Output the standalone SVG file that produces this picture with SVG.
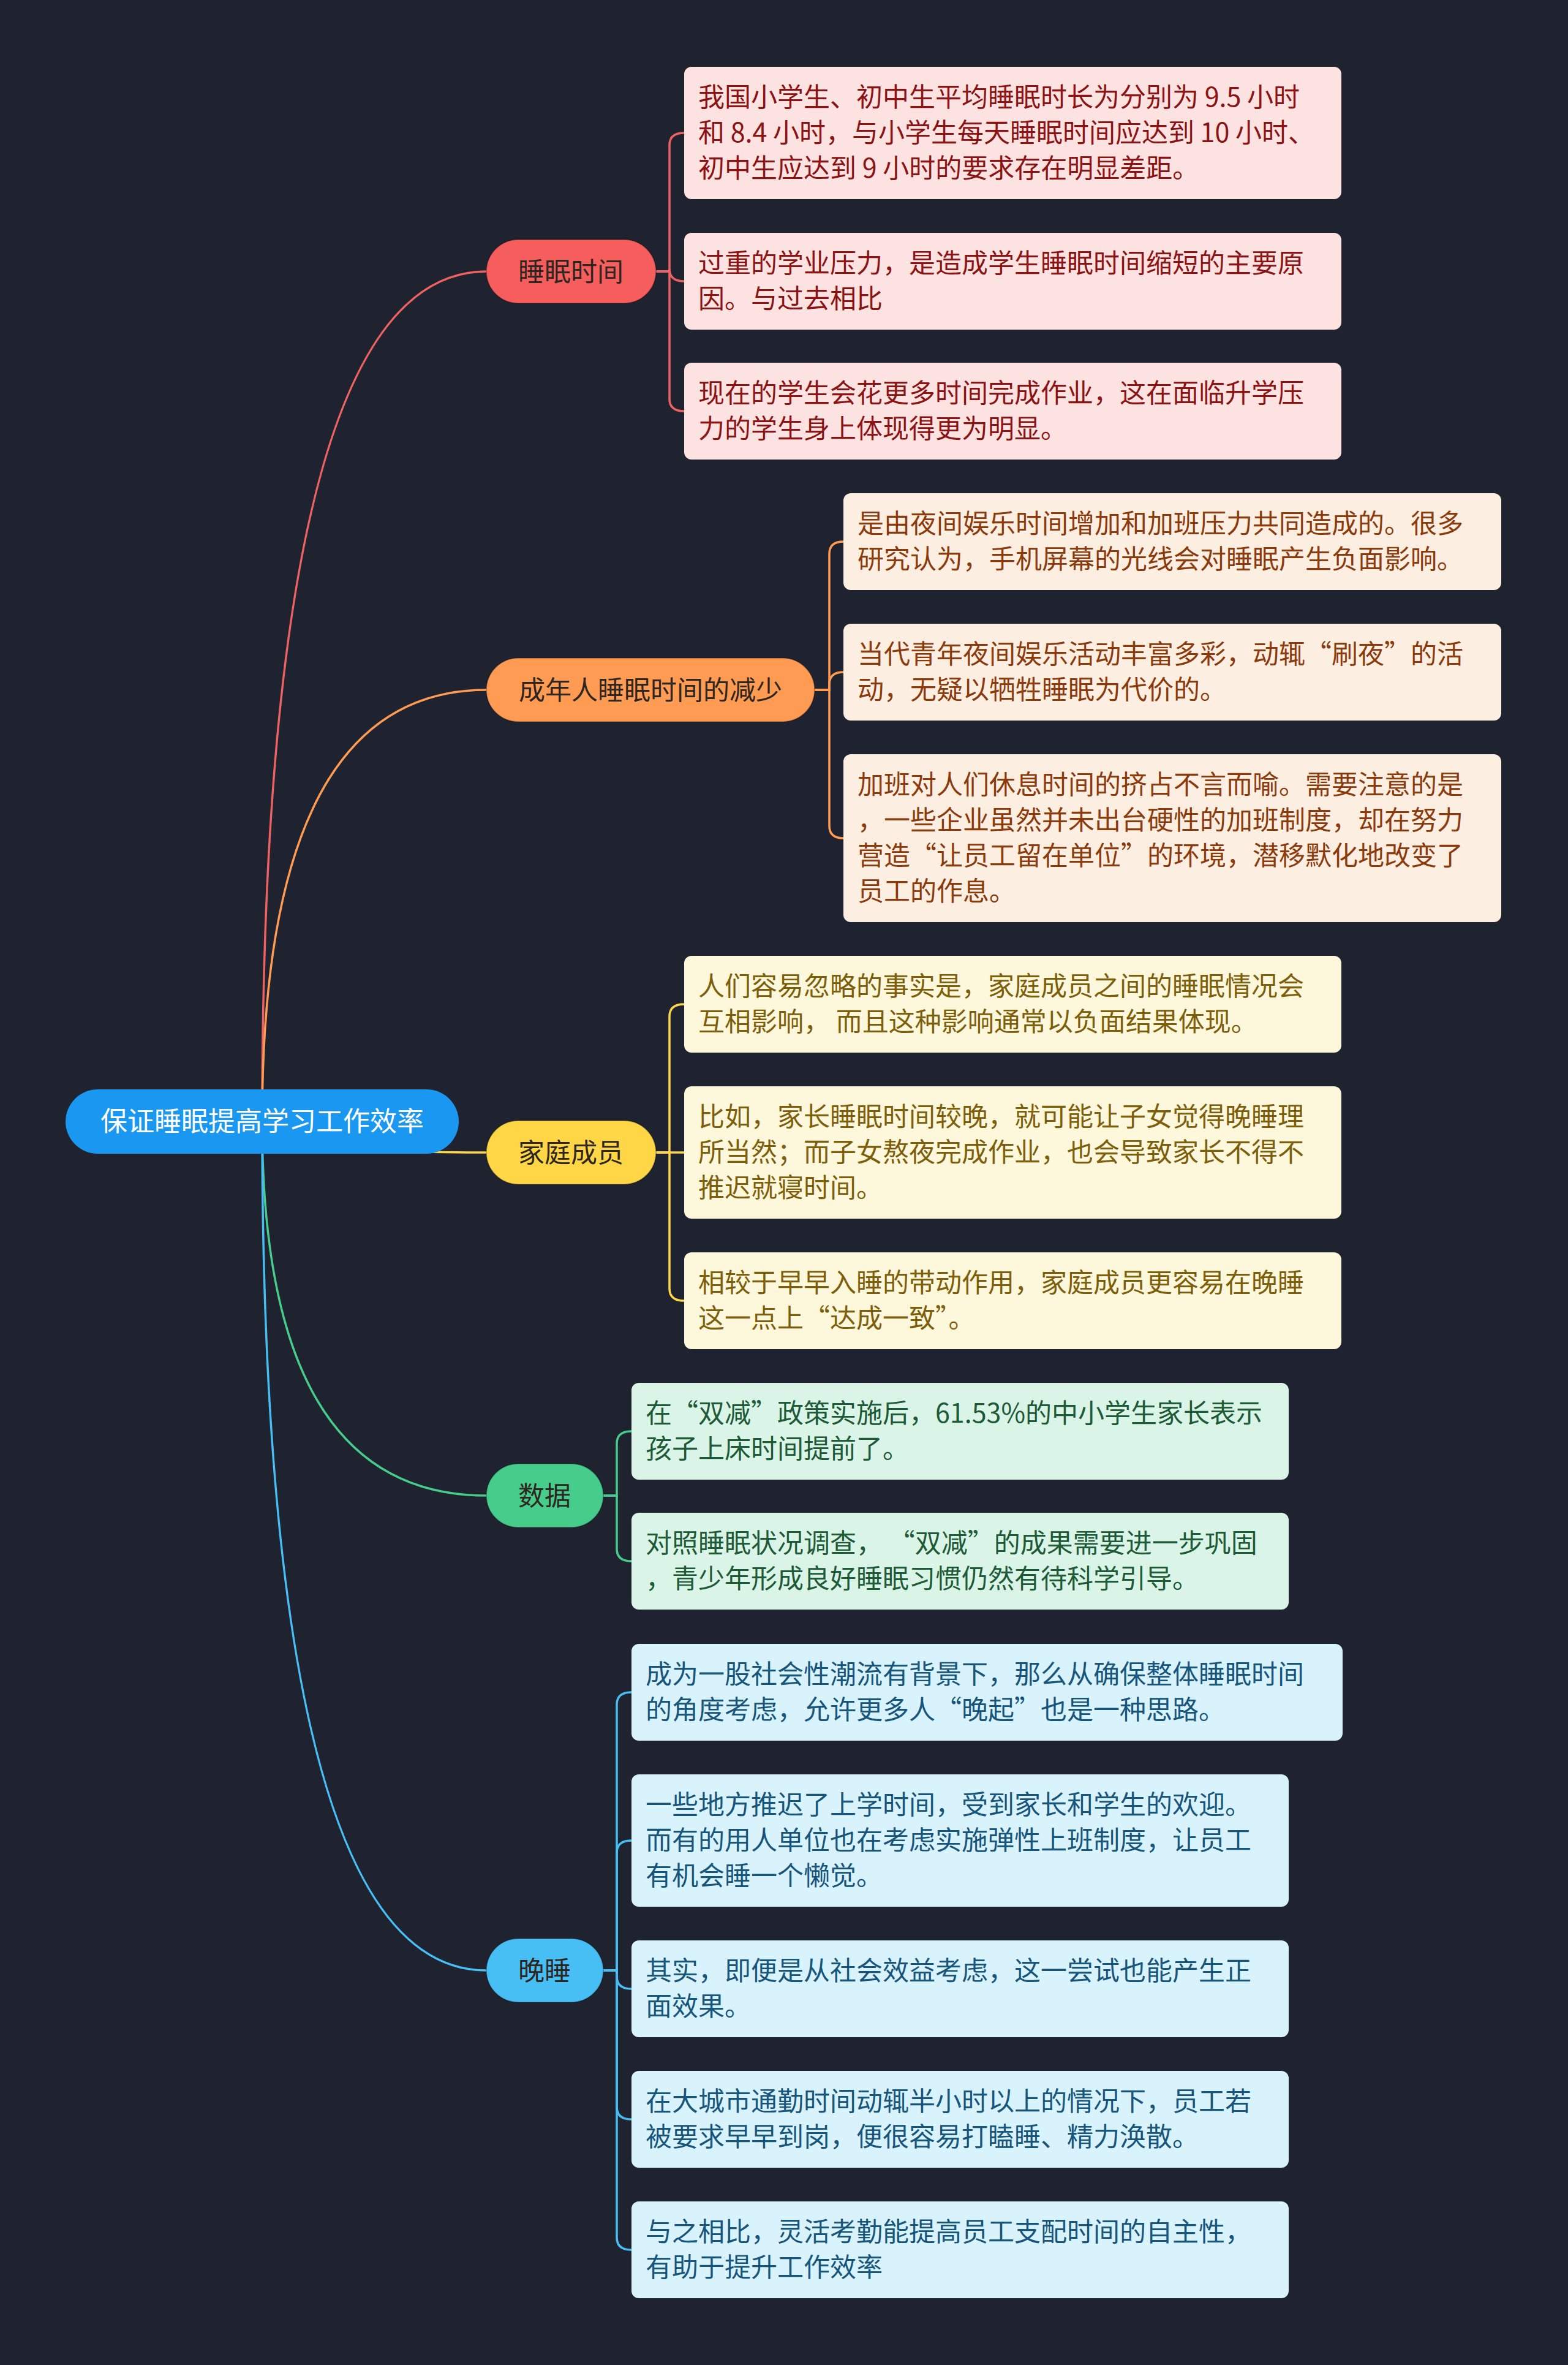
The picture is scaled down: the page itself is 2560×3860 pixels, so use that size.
<svg xmlns="http://www.w3.org/2000/svg" width="2560" height="3860" viewBox="0 0 2560 3860">
<style>
text{font-family:"Noto Sans CJK SC","Noto Sans",sans-serif;font-size:43px}
.c{fill:none;stroke-width:3.5;stroke-linecap:round}
.nt{text-anchor:middle}
.leaf{rx:12}
.r .c,.cr{stroke:#ef6262}
.o{stroke:#ff9b52}
.y{stroke:#ffd645}
.g{stroke:#46cc8b}
.b{stroke:#47bff5}
.bn{stroke:rgba(0,0,0,0.25);stroke-width:2}
.lr{fill:#fde2e2}.tr{fill:#8c1313}
.lo{fill:#fdeee2}.to{fill:#8b3a0c}
.ly{fill:#fdf7db}.ty{fill:#7d5e0a}
.lg{fill:#dbf4e8}.tg{fill:#1d5a36}
.lb{fill:#d9f3fd}.tb{fill:#17557a}
.bt{fill:#2e2620}
</style>
<rect width="2560" height="3860" fill="#1f2330"/>
<g id="connectors">
<path class="c cr" d="M428 1830 Q428 443 794 443"/>
<path class="c o" d="M428 1830 Q428 1126 794 1126"/>
<path class="c y" d="M428 1830 Q428 1881 794 1881"/>
<path class="c g" d="M428 1830 Q428 2441 794 2441"/>
<path class="c b" d="M428 1830 Q428 3216 794 3216"/>
<path class="c cr" d="M1071 443 H1093 V237 Q1093 217 1117 217"/>
<path class="c cr" d="M1071 443 H1093 V439 Q1093 459 1117 459"/>
<path class="c cr" d="M1071 443 H1093 V651 Q1093 671 1117 671"/>
<path class="c o" d="M1330 1126 H1354 V904 Q1354 884 1377 884"/>
<path class="c o" d="M1330 1126 H1354 V1117 Q1354 1097 1377 1097"/>
<path class="c o" d="M1330 1126 H1354 V1348 Q1354 1368 1377 1368"/>
<path class="c y" d="M1071 1881 H1093 V1659 Q1093 1639 1117 1639"/>
<path class="c y" d="M1071 1881 H1117"/>
<path class="c y" d="M1071 1881 H1093 V2103 Q1093 2123 1117 2123"/>
<path class="c g" d="M985 2441 H1007 V2356 Q1007 2336 1031 2336"/>
<path class="c g" d="M985 2441 H1007 V2528 Q1007 2548 1031 2548"/>
<path class="c b" d="M985 3216 H1007 V2782 Q1007 2762 1031 2762"/>
<path class="c b" d="M985 3216 H1007 V3024 Q1007 3004 1031 3004"/>
<path class="c b" d="M985 3216 H1007 V3226 Q1007 3246 1031 3246"/>
<path class="c b" d="M985 3216 H1007 V3439 Q1007 3459 1031 3459"/>
<path class="c b" d="M985 3216 H1007 V3652 Q1007 3672 1031 3672"/>
</g>
<g id="root">
<rect x="107" y="1778" width="642" height="105" rx="52.5" fill="#1a97f0"/>
<text x="428" y="1846" class="nt" fill="#ffffff" style="font-size:44px">保证睡眠提高学习工作效率</text>
</g>
<g id="n-sleep-time">
<rect class="bn" x="794" y="391" width="277" height="104" rx="52" fill="#f65e5e"/>
<text x="932" y="459" class="nt bt">睡眠时间</text>
</g>
<g id="n-adult">
<rect class="bn" x="794" y="1074" width="536" height="104" rx="52" fill="#ff9b52"/>
<text x="1062" y="1142" class="nt bt">成年人睡眠时间的减少</text>
</g>
<g id="n-family">
<rect class="bn" x="794" y="1829" width="277" height="104" rx="52" fill="#ffd645"/>
<text x="932" y="1897" class="nt bt">家庭成员</text>
</g>
<g id="n-data">
<rect class="bn" x="794" y="2389" width="191" height="104" rx="52" fill="#46cc8b"/>
<text x="889" y="2457" class="nt bt">数据</text>
</g>
<g id="n-late">
<rect class="bn" x="794" y="3164" width="191" height="104" rx="52" fill="#47bff5"/>
<text x="889" y="3232" class="nt bt">晚睡</text>
</g>
<g id="leaf-r1">
<rect class="lr" x="1117" y="109" width="1073" height="216" rx="12"/>
<text class="tr"><tspan x="1140" y="174">我国小学生、初中生平均睡眠时长为分别为 9.5 小时</tspan><tspan x="1140" y="232">和 8.4 小时，与小学生每天睡眠时间应达到 10 小时、</tspan><tspan x="1140" y="290">初中生应达到 9 小时的要求存在明显差距。</tspan></text>
</g>
<g id="leaf-r2">
<rect class="lr" x="1117" y="380" width="1073" height="158" rx="12"/>
<text class="tr"><tspan x="1140" y="445">过重的学业压力，是造成学生睡眠时间缩短的主要原</tspan><tspan x="1140" y="503">因。与过去相比</tspan></text>
</g>
<g id="leaf-r3">
<rect class="lr" x="1117" y="592" width="1073" height="158" rx="12"/>
<text class="tr"><tspan x="1140" y="657">现在的学生会花更多时间完成作业，这在面临升学压</tspan><tspan x="1140" y="715">力的学生身上体现得更为明显。</tspan></text>
</g>
<g id="leaf-o1">
<rect class="lo" x="1377" y="805" width="1074" height="158" rx="12"/>
<text class="to"><tspan x="1400" y="870">是由夜间娱乐时间增加和加班压力共同造成的。很多</tspan><tspan x="1400" y="928">研究认为，手机屏幕的光线会对睡眠产生负面影响。</tspan></text>
</g>
<g id="leaf-o2">
<rect class="lo" x="1377" y="1018" width="1074" height="158" rx="12"/>
<text class="to"><tspan x="1400" y="1083">当代青年夜间娱乐活动丰富多彩，动辄“刷夜”的活</tspan><tspan x="1400" y="1141">动，无疑以牺牲睡眠为代价的。</tspan></text>
</g>
<g id="leaf-o3">
<rect class="lo" x="1377" y="1231" width="1074" height="274" rx="12"/>
<text class="to"><tspan x="1400" y="1296">加班对人们休息时间的挤占不言而喻。需要注意的是</tspan><tspan x="1400" y="1354">，一些企业虽然并未出台硬性的加班制度，却在努力</tspan><tspan x="1400" y="1412">营造“让员工留在单位”的环境，潜移默化地改变了</tspan><tspan x="1400" y="1470">员工的作息。</tspan></text>
</g>
<g id="leaf-y1">
<rect class="ly" x="1117" y="1560" width="1073" height="158" rx="12"/>
<text class="ty"><tspan x="1140" y="1625">人们容易忽略的事实是，家庭成员之间的睡眠情况会</tspan><tspan x="1140" y="1683">互相影响， 而且这种影响通常以负面结果体现。</tspan></text>
</g>
<g id="leaf-y2">
<rect class="ly" x="1117" y="1773" width="1073" height="216" rx="12"/>
<text class="ty"><tspan x="1140" y="1838">比如，家长睡眠时间较晚，就可能让子女觉得晚睡理</tspan><tspan x="1140" y="1896">所当然；而子女熬夜完成作业，也会导致家长不得不</tspan><tspan x="1140" y="1954">推迟就寝时间。</tspan></text>
</g>
<g id="leaf-y3">
<rect class="ly" x="1117" y="2044" width="1073" height="158" rx="12"/>
<text class="ty"><tspan x="1140" y="2109">相较于早早入睡的带动作用，家庭成员更容易在晚睡</tspan><tspan x="1140" y="2167">这一点上“达成一致”。</tspan></text>
</g>
<g id="leaf-g1">
<rect class="lg" x="1031" y="2257" width="1073" height="158" rx="12"/>
<text class="tg"><tspan x="1054" y="2322">在“双减”政策实施后，61.53%的中小学生家长表示</tspan><tspan x="1054" y="2380">孩子上床时间提前了。</tspan></text>
</g>
<g id="leaf-g2">
<rect class="lg" x="1031" y="2469" width="1073" height="158" rx="12"/>
<text class="tg"><tspan x="1054" y="2534">对照睡眠状况调查， “双减”的成果需要进一步巩固</tspan><tspan x="1054" y="2592">，青少年形成良好睡眠习惯仍然有待科学引导。</tspan></text>
</g>
<g id="leaf-b1">
<rect class="lb" x="1031" y="2683" width="1161" height="158" rx="12"/>
<text class="tb"><tspan x="1054" y="2748">成为一股社会性潮流有背景下，那么从确保整体睡眠时间</tspan><tspan x="1054" y="2806">的角度考虑，允许更多人“晚起”也是一种思路。</tspan></text>
</g>
<g id="leaf-b2">
<rect class="lb" x="1031" y="2896" width="1073" height="216" rx="12"/>
<text class="tb"><tspan x="1054" y="2961">一些地方推迟了上学时间，受到家长和学生的欢迎。</tspan><tspan x="1054" y="3019">而有的用人单位也在考虑实施弹性上班制度，让员工</tspan><tspan x="1054" y="3077">有机会睡一个懒觉。</tspan></text>
</g>
<g id="leaf-b3">
<rect class="lb" x="1031" y="3167" width="1073" height="158" rx="12"/>
<text class="tb"><tspan x="1054" y="3232">其实，即便是从社会效益考虑，这一尝试也能产生正</tspan><tspan x="1054" y="3290">面效果。</tspan></text>
</g>
<g id="leaf-b4">
<rect class="lb" x="1031" y="3380" width="1073" height="158" rx="12"/>
<text class="tb"><tspan x="1054" y="3445">在大城市通勤时间动辄半小时以上的情况下，员工若</tspan><tspan x="1054" y="3503">被要求早早到岗，便很容易打瞌睡、精力涣散。</tspan></text>
</g>
<g id="leaf-b5">
<rect class="lb" x="1031" y="3593" width="1073" height="158" rx="12"/>
<text class="tb"><tspan x="1054" y="3658">与之相比，灵活考勤能提高员工支配时间的自主性，</tspan><tspan x="1054" y="3716">有助于提升工作效率</tspan></text>
</g>
</svg>
